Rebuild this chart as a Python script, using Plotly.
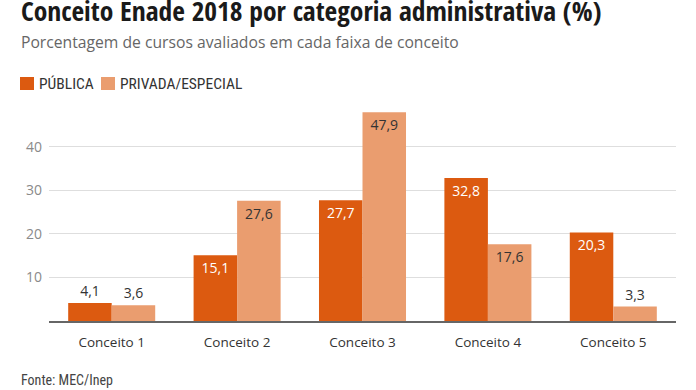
import plotly.graph_objects as go

categories = ["Conceito 1", "Conceito 2", "Conceito 3", "Conceito 4", "Conceito 5"]
publica = [4.1, 15.1, 27.7, 32.8, 20.3]
privada = [3.6, 27.6, 47.9, 17.6, 3.3]
series_names = ["PÚBLICA", "PRIVADA/ESPECIAL"]
y_ticks = [10, 20, 30, 40]

C_PUB = "#DC5A10"
C_PRIV = "#EA9D6F"

W, H = 696, 390
ML, MR, MT, MB = 49, 20, 103, 69
PW, PH = W - ML - MR, H - MT - MB

def px_x(x):  # pixel -> paper x
    return (x - ML) / PW

def px_y(y):  # pixel -> paper y
    return (H - MB - y) / PH

def positions(vals):
    return ["outside" if v < 8 else "inside" for v in vals]

def colors(vals, inside_color):
    return ["#333333" if v < 8 else inside_color for v in vals]

fig = go.Figure()
for name, vals, col, incol in [(series_names[0], publica, C_PUB, "white"),
                               (series_names[1], privada, C_PRIV, "#333333")]:
    fig.add_trace(go.Bar(
        x=categories, y=vals, name=name, marker_color=col, marker_line_width=0,
        texttemplate="%{y:.1f}", textposition=positions(vals),
        insidetextanchor="end", textangle=0,
        textfont=dict(family="Open Sans", size=14, color=colors(vals, incol)),
        cliponaxis=False, hoverinfo="skip", showlegend=False,
    ))

fig.update_layout(
    width=W, height=H,
    margin=dict(l=ML, r=MR, t=MT, b=MB, autoexpand=False),
    paper_bgcolor="white", plot_bgcolor="white",
    separators=",.",
    barmode="group", bargap=0.306, bargroupgap=0,
    font=dict(family="Open Sans", color="#333"),
)
fig.update_yaxes(range=[0, 50], tickvals=y_ticks, showgrid=True, gridcolor="#dedede",
                 gridwidth=1, zeroline=False, ticks="", showline=False, ticklabelstandoff=6,
                 tickfont=dict(family="Open Sans", size=14, color="#8a8a8a"))
fig.update_xaxes(showline=True, linecolor="#666", linewidth=1.5, ticks="", ticklabelstandoff=8,
                 tickfont=dict(family="Open Sans", size=13.5, color="#333"))

# manual legend
legend_items = [(series_names[0], C_PUB, 20, 38), (series_names[1], C_PRIV, 101, 119)]
for name, col, sx, tx in legend_items:
    fig.add_shape(type="rect", xref="paper", yref="paper",
                  x0=px_x(sx), x1=px_x(sx + 14), y0=px_y(90), y1=px_y(77),
                  fillcolor=col, line_width=0)
    fig.add_annotation(text=name, xref="paper", yref="paper", x=px_x(tx - 1), y=px_y(83.5),
                       xanchor="left", yanchor="middle", showarrow=False,
                       font=dict(family="Roboto Condensed", size=15.5, color="#333"))

fig.add_annotation(text="<b>Conceito Enade 2018 por categoria administrativa (%)</b>",
                   xref="paper", yref="paper", x=px_x(19), y=px_y(10), xanchor="left", yanchor="middle",
                   showarrow=False, font=dict(family="Open Sans Condensed", size=27.5, color="#1a1a1a"))
fig.add_annotation(text="Porcentagem de cursos avaliados em cada faixa de conceito",
                   xref="paper", yref="paper", x=px_x(19), y=px_y(42), xanchor="left", yanchor="middle",
                   showarrow=False, font=dict(family="Open Sans", size=15.7, color="#666"))
fig.add_annotation(text="Fonte: MEC/Inep",
                   xref="paper", yref="paper", x=px_x(19), y=px_y(380), xanchor="left", yanchor="middle",
                   showarrow=False, font=dict(family="Roboto Condensed", size=14, color="#444"))

fig.write_html("out.html", config={"displayModeBar": False},
               post_script="document.body.style.margin='0px';")
